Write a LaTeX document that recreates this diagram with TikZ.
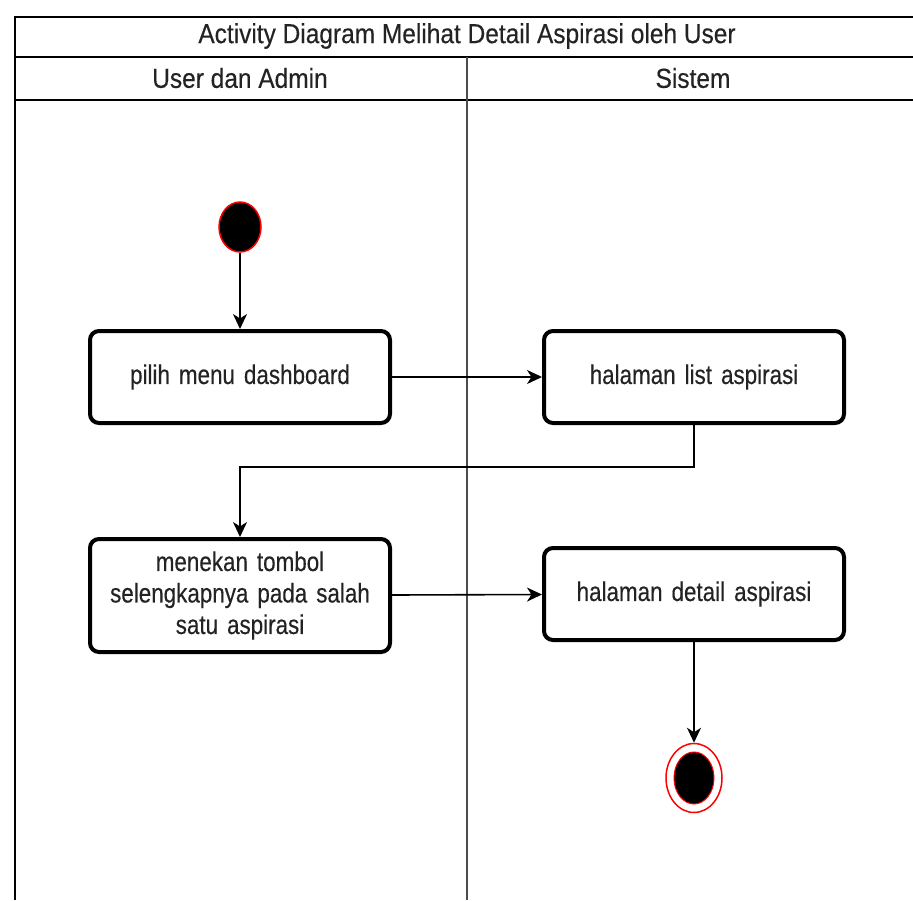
\documentclass[tikz,border=0pt]{standalone}
\usepackage{fontspec}
\setmainfont{Liberation Sans}[FakeStretch=0.83,FakeBold=0.3]
\newfontfamily\headfont{Liberation Sans}[FakeStretch=0.89,FakeBold=0.3]
\usetikzlibrary{arrows.meta,shapes.geometric}
\definecolor{inkred}{RGB}{255,0,0}
\definecolor{txt}{RGB}{35,35,35}
\begin{document}
\begin{tikzpicture}[x=1pt,y=-1pt,
  frame/.style={line width=2pt,black},
  lane/.style={line width=2pt,black!70},
  action/.style={draw=black,line width=4pt,rounded corners=9pt,fill=white,
    minimum width=300pt,minimum height=92pt,align=center,text=txt,
    font=\fontsize{27}{31.5}\selectfont,text width=280pt},
  flow/.style={line width=1.6pt,-{Stealth[length=15pt,width=14pt,inset=4.5pt]}},
  title/.style={text=txt,font=\headfont\fontsize{27.5}{30}\selectfont}]
\useasboundingbox (0,0) rectangle (913,900);
\fill[white] (0,0) rectangle (913,900);
% swimlane frame
\draw[frame] (913,17) -- (15,17) -- (15,900);
\draw[frame] (15,57) -- (913,57);
\draw[frame] (15,100) -- (913,100);
\draw[lane] (467,57) -- (467,900);
\node[title] (t) at (467,36) {Activity Diagram Melihat Detail Aspirasi oleh User};
\node[title] (l1) at (240,78) {User dan Admin};
\node[title] (l2) at (693,78) {Sistem};
% initial node
\node[ellipse,fill=black,draw=inkred,line width=1.5pt,minimum width=42pt,minimum height=50pt,inner sep=0pt] (start) at (240,227) {};
% actions
\node[action] (a1) at (240,377) {pilih menu dashboard};
\node[action] (a2) at (694,377) {halaman list aspirasi};
\node[action,minimum height=113pt] (a3) at (240,595.5) {menekan tombol\\selengkapnya pada salah\\satu aspirasi};
\node[action] (a4) at (694,594) {halaman detail aspirasi};
% final node
\node[ellipse,draw=inkred,line width=1.5pt,fill=white,minimum width=56pt,minimum height=69pt,inner sep=0pt] (end) at (694,778) {};
\node[ellipse,fill=black,draw=inkred,line width=1pt,minimum width=40pt,minimum height=52pt,inner sep=0pt] (endc) at (694,778) {};
% control flow
\draw[flow] (start) -- (a1);
\draw[flow] (a1) -- (a2);
\draw[flow] (a2.south) |- (240,467) -- (a3.north);
\draw[flow] (a3) -- (a4);
\draw[flow] (a4) -- (end);
\end{tikzpicture}
\end{document}
